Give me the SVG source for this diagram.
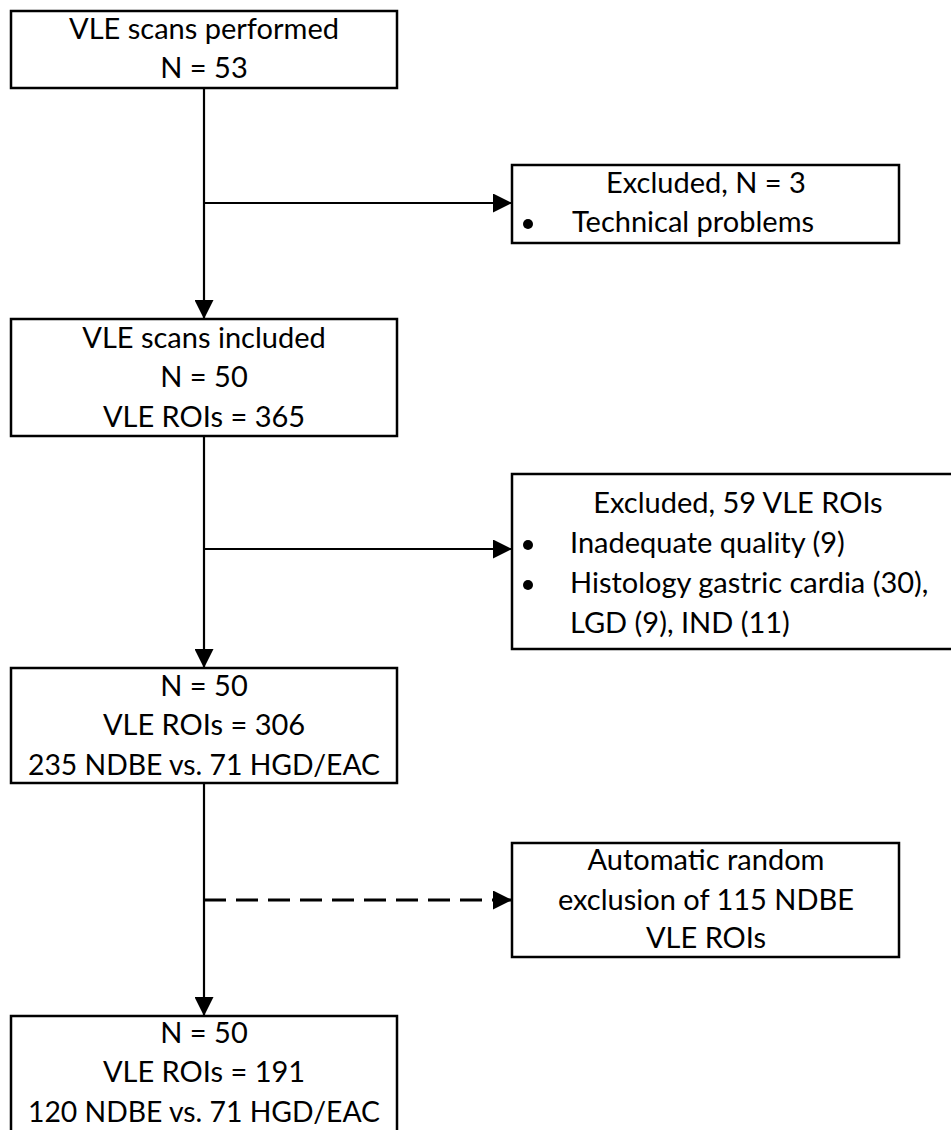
<svg xmlns="http://www.w3.org/2000/svg" width="951" height="1130" viewBox="0 0 951 1130">
<defs>
<marker id="ahb" viewBox="0 0 10 10" refX="10" refY="5" markerWidth="19" markerHeight="19" markerUnits="userSpaceOnUse" orient="auto">
<path d="M0,0 L10,5 L0,10 Z" fill="#000"/>
</marker>
<style>
.box{fill:#fff;stroke:#000;stroke-width:2.5}
.t{font-family:Lato,"Liberation Sans",sans-serif;font-size:29px;fill:#000;text-anchor:middle}
.l{text-anchor:start}
.c{stroke:#000;stroke-width:2.2;fill:none}
.d{stroke-dasharray:22 10;stroke-width:3}
</style>
</defs>
<rect width="951" height="1130" fill="#fff"/>
<g id="connectors">
<line class="c" x1="204" y1="88" x2="204" y2="319" marker-end="url(#ahb)"/>
<line class="c" x1="204" y1="203" x2="512" y2="203" marker-end="url(#ahb)"/>
<line class="c" x1="204" y1="436" x2="204" y2="668" marker-end="url(#ahb)"/>
<line class="c" x1="204" y1="549" x2="512" y2="549" marker-end="url(#ahb)"/>
<line class="c" x1="204" y1="783" x2="204" y2="1016" marker-end="url(#ahb)"/>
<line class="c d" x1="204" y1="900" x2="512" y2="900" marker-end="url(#ahb)"/>
</g>
<g id="n1">
<rect class="box" x="11" y="11" width="386" height="77"/>
<text class="t" x="204" y="39">VLE scans performed</text>
<text class="t" x="204" y="78">N = 53</text>
</g>
<g id="n2">
<rect class="box" x="512" y="165" width="387" height="78"/>
<text class="t" x="706" y="193">Excluded, N = 3</text>
<circle cx="528" cy="224" r="5"/>
<text class="t l" x="572" y="232">Technical problems</text>
</g>
<g id="n3">
<rect class="box" x="11" y="319" width="386" height="117"/>
<text class="t" x="204" y="348">VLE scans included</text>
<text class="t" x="204" y="387">N = 50</text>
<text class="t" x="204" y="427">VLE ROIs = 365</text>
</g>
<g id="n4">
<rect class="box" x="512" y="474" width="460" height="175"/>
<text class="t" x="738" y="513">Excluded, 59 VLE ROIs</text>
<circle cx="528" cy="545" r="5"/>
<text class="t l" x="570" y="553">Inadequate quality (9)</text>
<circle cx="528" cy="585" r="5"/>
<text class="t l" x="570" y="593">Histology gastric cardia (30),</text>
<text class="t l" x="570" y="633">LGD (9), IND (11)</text>
</g>
<g id="n5">
<rect class="box" x="11" y="668" width="386" height="115"/>
<text class="t" x="204" y="696">N = 50</text>
<text class="t" x="204" y="735">VLE ROIs = 306</text>
<text class="t" x="204" y="775" textLength="352" lengthAdjust="spacingAndGlyphs">235 NDBE vs. 71 HGD/EAC</text>
</g>
<g id="n6">
<rect class="box" x="512" y="843" width="387" height="114"/>
<text class="t" x="706" y="870">Automatic random</text>
<text class="t" x="706" y="910">exclusion of 115 NDBE</text>
<text class="t" x="706" y="948">VLE ROIs</text>
</g>
<g id="n7">
<rect class="box" x="11" y="1016" width="386" height="130"/>
<text class="t" x="204" y="1043">N = 50</text>
<text class="t" x="204" y="1082">VLE ROIs = 191</text>
<text class="t" x="204" y="1122" textLength="352" lengthAdjust="spacingAndGlyphs">120 NDBE vs. 71 HGD/EAC</text>
</g>
</svg>
